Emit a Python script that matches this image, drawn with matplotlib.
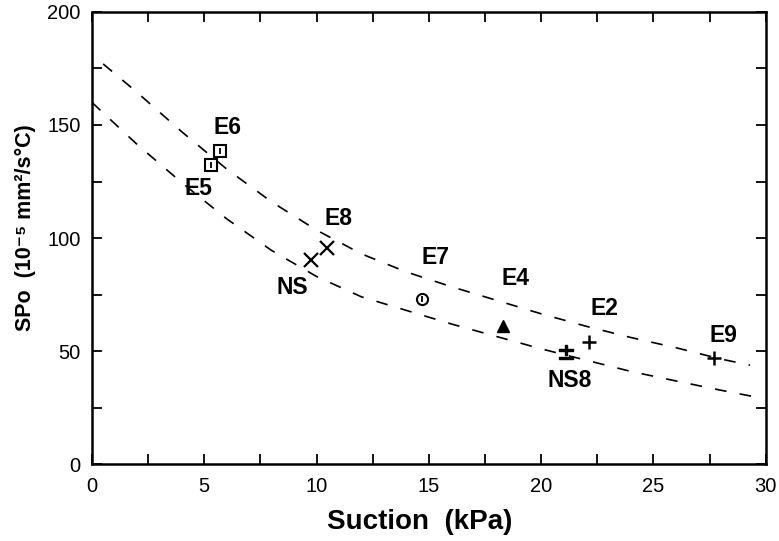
import matplotlib
matplotlib.use("Agg")
import matplotlib.pyplot as plt
from matplotlib.ticker import MultipleLocator

plt.rcParams['font.family'] = ['Liberation Sans', 'DejaVu Sans']

# Data points
labels = ["E5", "E6", "NS", "E8", "E7", "E4", "NS8", "E2", "E9"]
suction = [5.3, 5.7, 9.75, 10.45, 14.7, 18.3, 21.1, 22.15, 27.7]
spo = [132.5, 138.5, 90.3, 95.6, 73.0, 61.0, 49.6, 54.0, 46.9]
markers = ["s", "s", "x", "x", "o", "^", "$\\pm$", "+", "+"]

# Label positions
label_x = [4.75, 6.03, 8.9, 10.98, 15.28, 18.87, 21.27, 22.82, 28.13]
label_y = [122.0, 148.7, 78.3, 108.8, 91.2, 82.3, 37.2, 68.9, 57.1]

# Upper dashed curve
upper_x = [0.5, 2, 4, 6, 8, 10, 12, 14, 16, 18, 20, 22, 24, 26, 28, 29.3]
upper_y = [177.0, 164.5, 147.0, 130.5, 116.0, 103.5, 93.0, 85.0, 78.5, 72.5,
           66.5, 61.0, 56.0, 51.5, 46.5, 43.8]

# Lower dashed curve
lower_x = [0, 2, 4, 6, 8, 10, 12, 14, 16, 18, 20, 22, 24, 26, 28, 29.4]
lower_y = [160.0, 141.5, 124.5, 108.5, 94.5, 83.0, 74.0, 68.0, 62.0, 56.5,
           51.0, 46.0, 41.0, 36.8, 32.7, 30.0]

fig = plt.figure(figsize=(7.79, 5.41), dpi=100)
ax = fig.add_axes([0.118, 0.142, 0.865, 0.836])

ax.plot(upper_x, upper_y, color='black', lw=1.2, dashes=(7, 8))
ax.plot(lower_x, lower_y, color='black', lw=1.2, dashes=(7, 8))

for x, y, m, lab in zip(suction, spo, markers, labels):
    if m in ("s", "o"):
        ax.plot(x, y, marker=m, ms=8, mfc='white', mec='black',
                mew=1.5, ls='none')
        ax.plot(x, y, marker='|', ms=4, mec='black', mew=1.3, ls='none')
    elif m == "^":
        ax.plot(x, y, marker=m, ms=8, color='black', ls='none')
    elif m == "x":
        ax.plot(x, y, marker=m, ms=10, mec='black', mew=1.6, ls='none')
    elif m == "+":
        ax.plot(x, y, marker=m, ms=10, mec='black', mew=1.8, ls='none')
    else:
        ax.plot(x, y, marker=m, ms=10, color='black', ls='none')

for lx, ly, lab in zip(label_x, label_y, labels):
    ax.text(lx, ly, lab, fontsize=16.5, fontweight='bold', ha='center', va='center')

ax.set_xlim(0, 30)
ax.set_ylim(0, 200)
ax.xaxis.set_major_locator(MultipleLocator(5))
ax.xaxis.set_minor_locator(MultipleLocator(2.5))
ax.yaxis.set_major_locator(MultipleLocator(50))
ax.yaxis.set_minor_locator(MultipleLocator(25))
ax.tick_params(which='both', direction='in', top=True, right=True,
               length=7, width=1.3, labelsize=14.5)
ax.tick_params(axis='x', pad=9)
ax.tick_params(axis='y', pad=8)
for s in ax.spines.values():
    s.set_linewidth(1.8)

ax.set_xlabel("Suction  (kPa)", fontsize=20, fontweight='bold')
ax.xaxis.set_label_coords(0.487, -0.10)
ax.set_ylabel("SPo  (10\u207b\u2075 mm\u00b2/s\u00b0C)", fontsize=15.5, fontweight='bold')
ax.yaxis.set_label_coords(-0.083, 0.522)

fig.savefig("out.png", dpi=100)
